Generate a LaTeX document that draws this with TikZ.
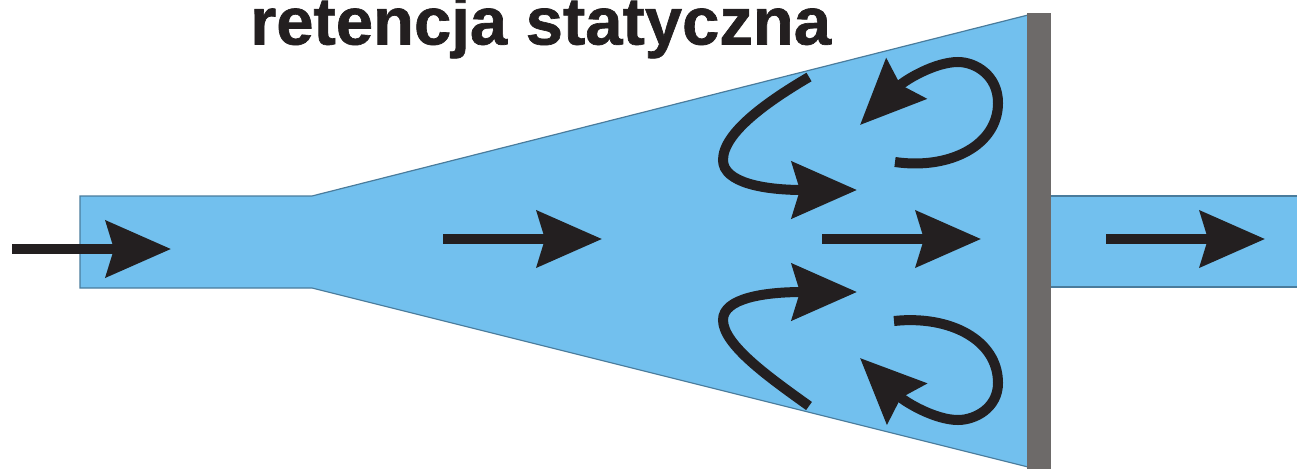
\documentclass[tikz,border=0pt]{standalone}
\usepackage{fontspec}
\newfontfamily\titlefont{Liberation Sans Bold}[FakeBold=1]
\usetikzlibrary{arrows.meta}
\definecolor{waterblue}{HTML}{72C0EE}
\definecolor{wallgray}{HTML}{6D6A69}
\definecolor{edgeblue}{HTML}{4A7C9C}
\definecolor{inkblack}{HTML}{231F20}

\begin{document}
\begin{tikzpicture}[x=1pt,y=-1pt,
        water/.style={fill=waterblue, draw=edgeblue, line width=1.2pt, line join=miter},
        flowarrow/.style={draw=inkblack, line width=9.5pt, -{Stealth[length=65pt,width=56pt,inset=8pt,fill=inkblack]}},
        swirlarrow/.style={draw=inkblack, line width=10pt, -{Stealth[length=65pt,width=56pt,inset=8pt,fill=inkblack]}}]
        \useasboundingbox (0,0) rectangle (1297,469);
        %Water
        \draw[water] (80,196) -- (312,196) -- (1028,15) -- (1028,467) -- (312,288) -- (80,288) -- cycle;
        \fill[waterblue] (1051,196) rectangle (1297,287);
        \draw[edgeblue, line width=1.2pt] (1051,196) -- (1297,196);
        \draw[edgeblue, line width=1.2pt] (1051,287) -- (1297,287);
        \fill[wallgray] (1027,13) rectangle (1051,469);
        %Nodes
        \node[anchor=base west, inner sep=0pt, text=inkblack, font=\titlefont\fontsize{67}{67}\selectfont] (title) at (250,44.5) {retencja statyczna};
        \coordinate (in1)  at (12,249);
        \coordinate (in2)  at (171,249);
        \coordinate (mid1) at (443,239);
        \coordinate (mid2) at (602,239);
        \coordinate (wall1) at (822,239);
        \coordinate (wall2) at (981,239);
        \coordinate (out1) at (1106,239);
        \coordinate (out2) at (1265,239);
        \coordinate (ul1) at (809,77);
        \coordinate (ul2) at (723,160);
        \coordinate (ul3) at (857,190);
        \coordinate (ur1) at (895,162);
        \coordinate (ur2) at (998,103);
        \coordinate (ur3) at (860,125);
        \coordinate (ll1) at (809,406);
        \coordinate (ll2) at (723,320);
        \coordinate (ll3) at (857,292);
        \coordinate (lr1) at (894,321);
        \coordinate (lr2) at (998,383);
        \coordinate (lr3) at (860,358);
        %Lines
        \draw[flowarrow] (in1) -- (in2);
        \draw[flowarrow] (mid1) -- (mid2);
        \draw[flowarrow] (wall1) -- (wall2);
        \draw[flowarrow] (out1) -- (out2);
        \draw[swirlarrow] (ul1) .. controls (770,100) and (723,132) .. (ul2) .. controls (723,183) and (765,190) .. (ul3);
        \draw[swirlarrow] (ur1) .. controls (950,170) and (998,145) .. (ur2) .. controls (998,75) and (975,62) .. (958,62) .. controls (935,62) and (905,80) .. (ur3);
        \draw[swirlarrow] (ll1) .. controls (770,378) and (723,345) .. (ll2) .. controls (723,298) and (765,292) .. (ll3);
        \draw[swirlarrow] (lr1) .. controls (950,315) and (998,340) .. (lr2) .. controls (998,408) and (975,420) .. (958,420) .. controls (935,420) and (905,402) .. (lr3);
    \end{tikzpicture}
\end{document}
